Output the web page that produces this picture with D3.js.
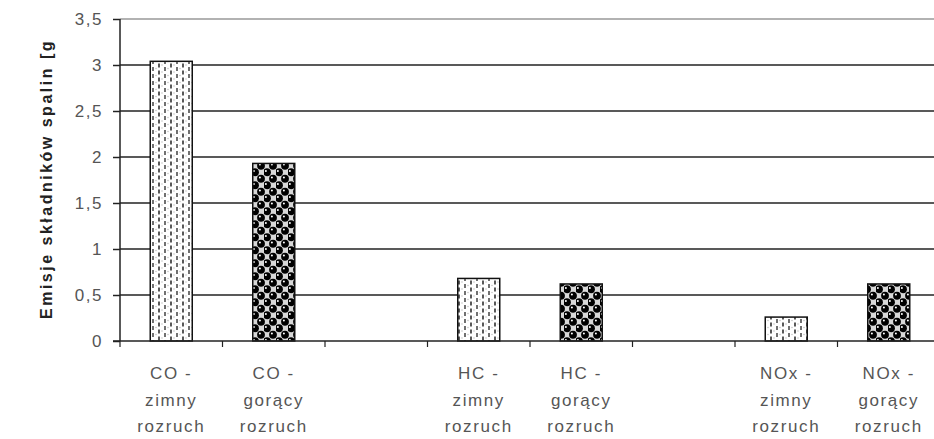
<!DOCTYPE html>
<html><head><meta charset="utf-8">
<script src="https://cdn.jsdelivr.net/npm/d3@7"></script>
<style>body{margin:0;background:#fff}svg{display:block}</style>
</head><body>
<svg id="c" width="934" height="439"></svg>
<script>
const categories = ["CO - zimny rozruch","CO - gorący rozruch","gap1","HC - zimny rozruch","HC - gorący rozruch","gap2","NOx - zimny rozruch","NOx - gorący rozruch"];
const labelLines = [["CO -","zimny","rozruch"],["CO -","gorący","rozruch"],[],["HC -","zimny","rozruch"],["HC -","gorący","rozruch"],[],["NOx -","zimny","rozruch"],["NOx -","gorący","rozruch"]];
const values = [3.04, 1.93, null, 0.68, 0.62, null, 0.26, 0.62];
const kinds = ["cold","hot",null,"cold","hot",null,"cold","hot"];
const yTicks = [0,0.5,1,1.5,2,2.5,3,3.5];
const yTickLabels = ["0","0,5","1","1,5","2","2,5","3","3,5"];
const yTitle = "Emisje składników spalin [g";

const svg = d3.select("#c");
const x = d3.scaleBand().domain(categories).range([120, 940]).paddingInner(0).paddingOuter(0);
const y = d3.scaleLinear().domain([0, 3.5]).range([341, 19]);

const defs = svg.append("defs");
const pc = defs.append("pattern").attr("id","cold").attr("patternUnits","userSpaceOnUse")
  .attr("width",12).attr("height",7);
pc.append("rect").attr("width",12).attr("height",7).attr("fill","#fff");
pc.append("line").attr("x1",3).attr("x2",3).attr("y1",0.5).attr("y2",4.5).attr("stroke","#111").attr("stroke-width",1.4);
pc.append("line").attr("x1",9).attr("x2",9).attr("y1",4).attr("y2",7).attr("stroke","#333").attr("stroke-width",1.4);
pc.append("line").attr("x1",9).attr("x2",9).attr("y1",0).attr("y2",1).attr("stroke","#333").attr("stroke-width",1.4);
pc.append("circle").attr("cx",6).attr("cy",2).attr("r",0.7).attr("fill","#bbb");
pc.append("circle").attr("cx",0).attr("cy",5.5).attr("r",0.7).attr("fill","#bbb");
pc.append("circle").attr("cx",12).attr("cy",5.5).attr("r",0.7).attr("fill","#bbb");

const ph = defs.append("pattern").attr("id","hot").attr("patternUnits","userSpaceOnUse")
  .attr("width",12).attr("height",13);
ph.append("rect").attr("width",12).attr("height",13).attr("fill","#d8d8d8");
[[3,3.25],[9,9.75],[-3,9.75],[15,9.75],[9,-3.25],[-3,-3.25],[3,16.25]].forEach(([cx,cy])=>{
  ph.append("circle").attr("cx",cx).attr("cy",cy).attr("r",3.9).attr("fill","#000");
  ph.append("circle").attr("cx",cx-1.1).attr("cy",cy-1.2).attr("r",1).attr("fill","#fff");
});

// gridlines
svg.append("g").selectAll("line").data(yTicks.filter(d=>d>0)).join("line")
  .attr("x1",120).attr("x2",934).attr("y1",d=>y(d)).attr("y2",d=>y(d))
  .attr("stroke",d=>d===3.5?"#999":"#222").attr("stroke-width",1.5);

// y axis
const yAxis = d3.axisLeft(y).tickValues(yTicks).tickFormat((d,i)=>yTickLabels[i]).tickSize(7).tickPadding(10);
const gy = svg.append("g").attr("transform","translate(120,0)").call(yAxis);
gy.select(".domain").attr("stroke","#222").attr("stroke-width",1.5).attr("d","M0,"+y(3.5)+"V"+y(0));
gy.selectAll(".tick line").attr("stroke","#222").attr("stroke-width",1.5);
gy.selectAll(".tick text").attr("font-family","Liberation Sans, Arial, sans-serif").attr("font-size",17)
  .attr("fill","#555").attr("letter-spacing","1.5px");

// bars
const bw = 42;
svg.append("g").selectAll("rect").data(categories.map((c,i)=>({c,v:values[i],k:kinds[i]})).filter(d=>d.v!==null)).join("rect")
  .attr("x",d=>x(d.c)+x.bandwidth()/2-bw/2).attr("width",bw)
  .attr("y",d=>y(d.v)).attr("height",d=>y(0)-y(d.v))
  .attr("fill",d=>"url(#"+d.k+")").attr("stroke","#111").attr("stroke-width",1.5);

// x axis
const xAxis = d3.axisBottom(x).tickFormat("").tickSize(0);
const gx = svg.append("g").attr("transform","translate(0,341)").call(xAxis);
gx.select(".domain").attr("stroke","#222").attr("stroke-width",1.5).attr("d","M113,0H934");
gx.selectAll(".tick").remove();
const bounds = categories.map(c=>x(c)).concat([x.range()[1]]);
gx.selectAll("line.b").data(bounds).join("line").attr("class","b")
  .attr("x1",d=>d).attr("x2",d=>d).attr("y1",0).attr("y2",6).attr("stroke","#222").attr("stroke-width",1.2);

// x labels
const lab = svg.append("g").attr("font-family","Liberation Sans, Arial, sans-serif").attr("font-size",17)
  .attr("fill","#555").attr("letter-spacing","1.6px").attr("text-anchor","middle");
categories.forEach((c,i)=>{
  labelLines[i].forEach((t,j)=>{
    lab.append("text").attr("x",x(c)+x.bandwidth()/2).attr("y",379+j*26.5).text(t);
  });
});

// y title
svg.append("text").attr("transform","translate(52,179) rotate(-90)")
  .attr("text-anchor","middle").attr("font-family","Liberation Sans, Arial, sans-serif")
  .attr("font-weight","bold").attr("font-size",16).attr("letter-spacing","2.5px").attr("fill","#222").text(yTitle);
</script>
</body></html>
